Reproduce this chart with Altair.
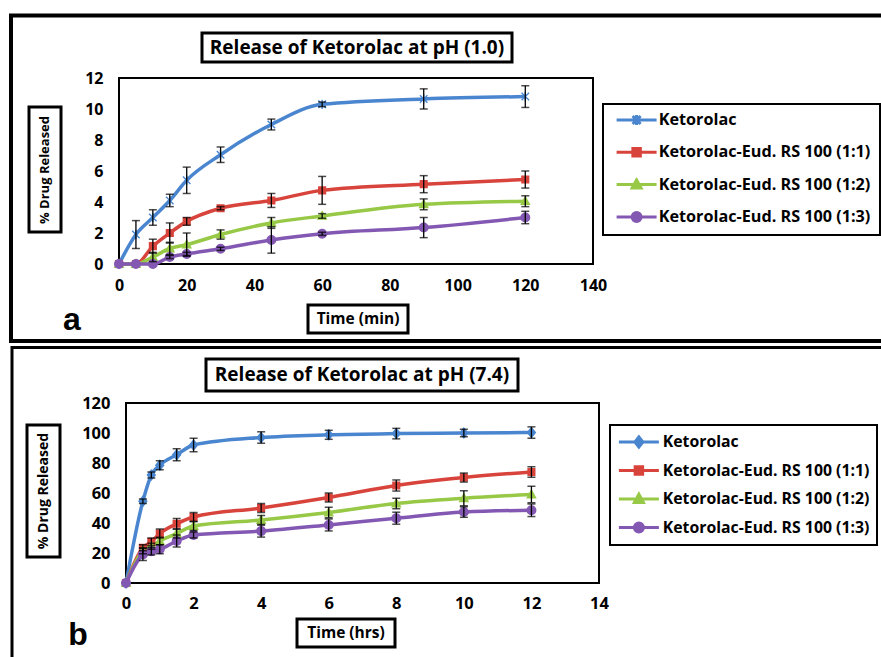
import altair as alt
import pandas as pd

# ---------------- data ----------------
SERIES = ["Ketorolac", "Ketorolac-Eud. RS 100 (1:1)",
          "Ketorolac-Eud. RS 100 (1:2)", "Ketorolac-Eud. RS 100 (1:3)"]
COLORS = ["#4a86cf", "#d8443c", "#97c947", "#8358b3"]

# panel a : pH 1.0, time in minutes
TIME_A = [0, 5, 10, 15, 20, 30, 45, 60, 90, 120]
KET_A = [0, 1.9, 3.0, 4.1, 5.4, 7.05, 9.0, 10.3, 10.65, 10.8]
KET_A_ERR = [0, 0.9, 0.5, 0.4, 0.85, 0.5, 0.35, 0.15, 0.65, 0.7]
RS11_A = [0, 0, 1.15, 2.0, 2.75, 3.6, 4.1, 4.75, 5.15, 5.45]
RS11_A_ERR = [0, 0, 0.45, 0.65, 0.25, 0.1, 0.45, 0.9, 0.55, 0.55]
RS12_A = [0, 0, 0.45, 1.0, 1.25, 1.9, 2.65, 3.1, 3.85, 4.05]
RS12_A_ERR = [0, 0, 0.3, 0.4, 0.75, 0.3, 0.35, 0.15, 0.35, 0.35]
RS13_A = [0, 0, 0, 0.45, 0.65, 0.98, 1.55, 1.95, 2.35, 3.0]
RS13_A_ERR = [0, 0, 0, 0.1, 0.1, 0.1, 0.85, 0.1, 0.65, 0.4]

# panel b : pH 7.4, time in hours
TIME_B = [0, 0.5, 0.75, 1, 1.5, 2, 4, 6, 8, 10, 12]
KET_B = [0, 54.5, 72, 78.5, 85.5, 92, 97, 98.8, 99.6, 100, 100.3]
KET_B_ERR = [0, 1.5, 2, 3, 4, 4.5, 3.8, 3, 3.5, 2.5, 3.8]
RS11_B = [0, 23.5, 27.5, 33, 39.5, 44, 50, 57, 65, 70.3, 74]
RS11_B_ERR = [0, 2, 2.5, 3, 3.5, 3, 3, 3, 3.7, 3, 3.5]
RS12_B = [0, 21.5, 24.5, 28, 33, 38, 42, 47, 53, 56.5, 59]
RS12_B_ERR = [0, 2, 2, 2.5, 3, 3, 3, 3.5, 3.5, 5, 5.5]
RS13_B = [0, 19, 21.2, 22.5, 28, 32, 34.6, 38.7, 43.2, 47.3, 48.5]
RS13_B_ERR = [0, 4, 2.5, 3, 4, 2, 4, 4, 4, 3.5, 4.2]

XTICKS_A = [0, 20, 40, 60, 80, 100, 120, 140]
YTICKS_A = [0, 2, 4, 6, 8, 10, 12]
XTICKS_B = [0, 2, 4, 6, 8, 10, 12, 14]
YTICKS_B = [0, 20, 40, 60, 80, 100, 120]

TITLE_A = "Release of Ketorolac at pH (1.0)"
TITLE_B = "Release of Ketorolac at pH (7.4)"
YTITLE = "% Drug Released"
XTITLE_A = "Time (min)"
XTITLE_B = "Time (hrs)"
PANEL_A = "a"
PANEL_B = "b"

# marker shapes (custom SVG paths, unit radius)
ASTER = "M-1,-1L1,1M-1,1L1,-1M0,-1.25V1.25"
SQUARE = "M-0.9,-0.9H0.9V0.9H-0.9Z"
TRIANGLE = "M0,-1.15L1.1,0.85H-1.1Z"
CIRCLE = "M1.15,0A1.15,1.15,0,1,1,-1.15,0A1.15,1.15,0,1,1,1.15,0Z"
DIAMOND = "M0,-1.3L1.05,0L0,1.3L-1.05,0Z"
MARK_A = [ASTER, SQUARE, TRIANGLE, CIRCLE]
MARK_B = [DIAMOND, SQUARE, TRIANGLE, CIRCLE]

# legend symbols: line with marker (scale 5 px per unit)
LINE = "M-4,0H4"
LEG_A = [LINE + "M-0.8,-0.8L0.8,0.8M-0.8,0.8L0.8,-0.8M0,-1V1",
         LINE + "M-0.75,-0.75H0.75V0.75H-0.75Z",
         LINE + "M0,-0.95L0.9,0.7H-0.9Z",
         LINE + "M0.9,0A0.9,0.9,0,1,1,-0.9,0A0.9,0.9,0,1,1,0.9,0Z"]
LEG_B = [LINE + "M0,-1L0.8,0L0,1L-0.8,0Z",
         LINE + "M-0.75,-0.75H0.75V0.75H-0.75Z",
         LINE + "M0,-0.95L0.9,0.7H-0.9Z",
         LINE + "M0.9,0A0.9,0.9,0,1,1,-0.9,0A0.9,0.9,0,1,1,0.9,0Z"]

FONT = "Open Sans"


def long_df(times, vals, errs, markers):
    rows = []
    for s, v, e, m in zip(SERIES, vals, errs, markers):
        for t, y, err in zip(times, v, e):
            rows.append(dict(t=t, v=y, lo=y - err, hi=y + err, err=err,
                             series=s, marker=m))
    return pd.DataFrame(rows)


def lookup_expr(values):
    arr = "[" + ",".join("'" + v + "'" for v in values) + "]"
    names = "[" + ",".join("'" + s + "'" for s in SERIES) + "]"
    return arr + "[indexof(" + names + ", datum.value)]"


df_a = long_df(TIME_A, [KET_A, RS11_A, RS12_A, RS13_A],
               [KET_A_ERR, RS11_A_ERR, RS12_A_ERR, RS13_A_ERR], MARK_A)
df_b = long_df(TIME_B, [KET_B, RS11_B, RS12_B, RS13_B],
               [KET_B_ERR, RS11_B_ERR, RS12_B_ERR, RS13_B_ERR], MARK_B)


def panel(df, xticks, yticks, xrange, yrange, canvas_h, lab_size,
          xpad, ypad, legend):
    xs = alt.Scale(domain=[xticks[0], xticks[-1]], range=xrange, nice=False, zero=False)
    ys = alt.Scale(domain=[yticks[0], yticks[-1]], range=yrange, nice=False, zero=False)
    common = dict(domain=False, ticks=False, grid=False, title=None,
                  labelFont=FONT, labelFontSize=lab_size, labelFontWeight="bold",
                  labelColor="black", labelFlush=False, labelOverlap=False)
    xa = alt.Axis(orient="bottom", offset=yrange[0] - canvas_h, values=xticks,
                  labelPadding=xpad, **common)
    ya = alt.Axis(orient="left", offset=-xrange[0], values=yticks,
                  labelPadding=ypad, **common)
    cs = alt.Scale(domain=SERIES, range=COLORS)

    frame_df = pd.DataFrame({"x0": [xticks[0]], "x1": [xticks[-1]],
                             "y0": [yticks[0]], "y1": [yticks[-1]]})
    frame = alt.Chart(frame_df).mark_rect(fill="transparent", stroke="black",
                                          strokeWidth=2).encode(
        x=alt.X("x0:Q", scale=xs, axis=xa), x2="x1:Q",
        y=alt.Y("y0:Q", scale=ys, axis=ya), y2="y1:Q")

    base = alt.Chart(df)
    X = alt.X("t:Q", scale=xs, axis=xa)
    lines = base.mark_line(interpolate="monotone", strokeWidth=3.5).encode(
        x=X, y=alt.Y("v:Q", scale=ys, axis=ya),
        color=alt.Color("series:N", scale=cs, legend=legend))
    points = base.mark_point(filled=True, size=56, strokeWidth=1.4, opacity=1).encode(
        x=X, y=alt.Y("v:Q", scale=ys, axis=ya),
        color=alt.Color("series:N", scale=cs, legend=None),
        stroke=alt.Stroke("series:N", scale=cs, legend=None),
        shape=alt.Shape("marker:N", scale=None, legend=None))
    eb = alt.Chart(df[df.err > 0])
    rules = eb.mark_rule(color="black", strokeWidth=1.3).encode(
        x=X, y=alt.Y("lo:Q", scale=ys, axis=ya), y2="hi:Q")
    cap_lo = eb.mark_tick(orient="horizontal", size=8, thickness=1.5, color="black").encode(
        x=X, y=alt.Y("lo:Q", scale=ys, axis=ya))
    cap_hi = eb.mark_tick(orient="horizontal", size=8, thickness=1.5, color="black").encode(
        x=X, y=alt.Y("hi:Q", scale=ys, axis=ya))
    return alt.layer(frame, lines, points, rules, cap_lo, cap_hi)


W, H = 881, 657


def legend(x, y, pad, rowpad, symoff, laboff, clip, symbols, fsize):
    kw = {}
    if clip:
        kw["clipHeight"] = clip
    return alt.Legend(title=None, orient="none", legendX=x, legendY=y,
                      padding=pad, rowPadding=rowpad, symbolSize=100,
                      symbolStrokeWidth=3, symbolOffset=symoff, labelOffset=laboff,
                      labelFont=FONT, labelFontSize=fsize, labelFontWeight="bold",
                      labelColor="black", labelLimit=500, strokeColor="black",
                      fillColor="white",
                      symbolType={"expr": lookup_expr(symbols)},
                      symbolFillColor={"expr": lookup_expr(COLORS)},
                      symbolStrokeColor={"expr": lookup_expr(COLORS)},
                      **kw)


panel_a = panel(df_a, XTICKS_A, YTICKS_A, [119, 593], [264, 78], H, 16, 13, 16,
                legend(603, 104, 9, 15.3, 16.5, 14, 14, LEG_A, 16.2))
panel_b = panel(df_b, XTICKS_B, YTICKS_B, [126, 599], [583, 403], H, 16.5, 12, 16,
                legend(610, 425, 7, 8.5, 14, 16, 20, LEG_B, 15.8))

one = pd.DataFrame({"k": [0]})


def box(x, x2, y, y2, sw=3, fill="white"):
    return alt.Chart(one).mark_rect(fill=fill, stroke="black", strokeWidth=sw).encode(
        x=alt.value(x), x2=alt.value(x2), y=alt.value(y), y2=alt.value(y2))


def label(txt, x, y, size, angle=0, font=FONT, baseline="middle"):
    kw = {"angle": angle} if angle else {}
    return alt.Chart(one).mark_text(font=font, fontWeight="bold", fontSize=size,
                                    align="center", baseline=baseline,
                                    color="black", **kw).encode(
        x=alt.value(x), y=alt.value(y), text=alt.value(txt))


deco = [
    box(11, 900, 15.5, 341, sw=4, fill="transparent"),
    box(12, 900, 347.5, 700, sw=3, fill="transparent"),
    box(202, 512, 33, 62), label(TITLE_A, 357, 48, 19),
    box(29, 61, 107, 232), label(YTITLE, 45, 170, 13, angle=270),
    box(308, 408, 305, 333), label(XTITLE_A, 358, 319, 15.5),
    label(PANEL_A, 72, 330, 32, font="Liberation Sans", baseline="alphabetic"),
    box(206, 518, 359, 391), label(TITLE_B, 362, 375, 19),
    box(27, 60, 425, 557), label(YTITLE, 43.5, 491, 14, angle=270),
    box(297, 395, 619, 647), label(XTITLE_B, 346, 633, 15.5),
    label(PANEL_B, 78, 645, 32, font="Liberation Sans", baseline="alphabetic"),
]

chart = alt.layer(*deco, panel_a, panel_b).resolve_scale(
    x="independent", y="independent", color="independent", stroke="independent"
).resolve_legend(color="independent").properties(
    width=W, height=H, autosize=alt.AutoSizeParams(type="none"), padding=0,
    background="white"
).configure_view(strokeWidth=0).configure_legend(strokeWidth=2)

chart.save("out.html", embed_options={"renderer": "svg", "actions": False})
